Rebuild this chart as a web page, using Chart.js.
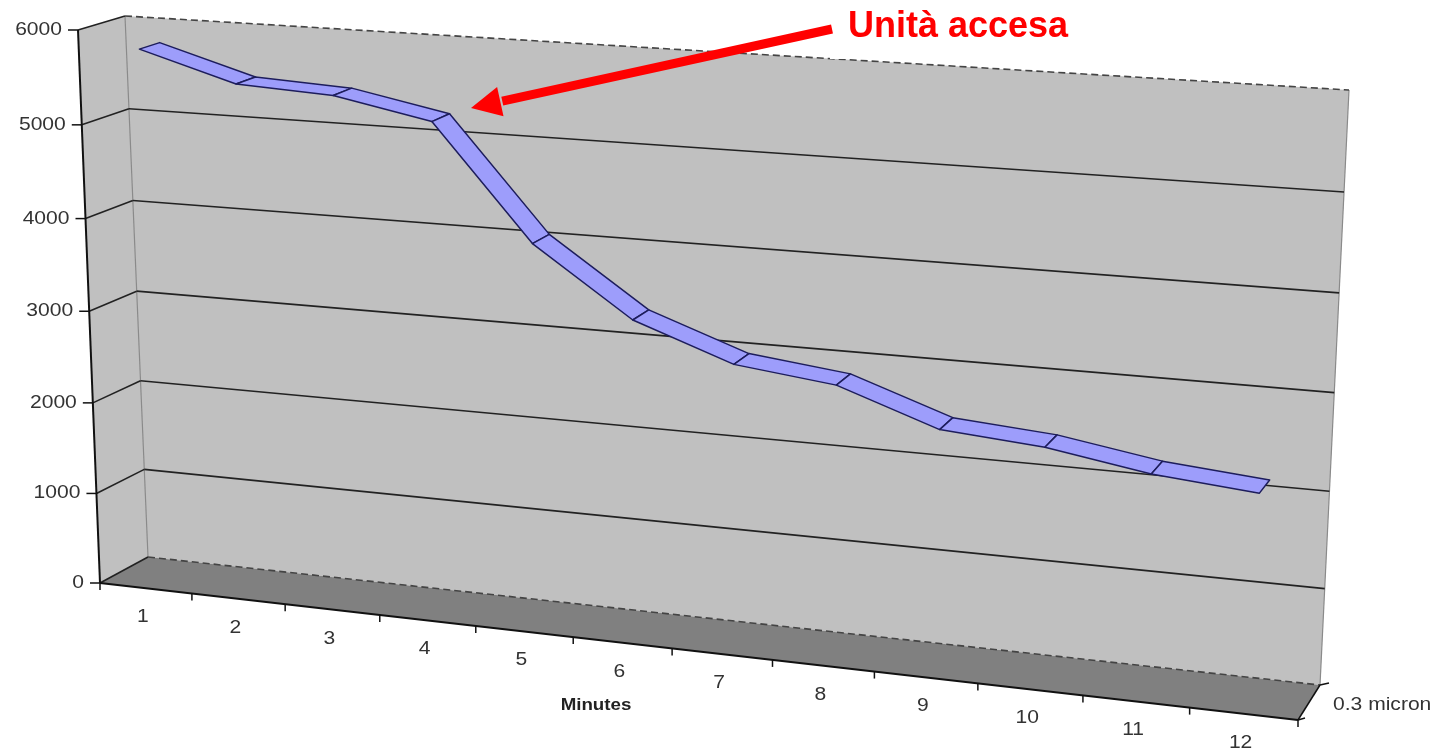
<!DOCTYPE html>
<html>
<head>
<meta charset="utf-8">
<script src="https://cdn.jsdelivr.net/npm/chart.js@4.4.1/dist/chart.umd.min.js"></script>
<style>
  html, body { margin: 0; padding: 0; background: #fff; }
  #wrap { width: 1437px; height: 751px; }
</style>
</head>
<body>
<div id="wrap"><canvas id="chart" width="1437" height="751"></canvas></div>
<script>
// particle counts per minute (0.3 micron channel)
var minutes = ['1', '2', '3', '4', '5', '6', '7', '8', '9', '10', '11', '12'];
var counts = [5790, 5490, 5440, 5240, 4050, 3340, 2970, 2850, 2490, 2410, 2240, 2150];
var yTicks = [0, 1000, 2000, 3000, 4000, 5000, 6000];
var seriesName = '0.3 micron';
var axisTitle = 'Minutes';
var noteText = 'Unità accesa';

// corners of the 3d box: f = front, b = back; digits = u (category), v (value)
var box = {
    f00: [100, 583], f10: [1298, 720], f01: [78, 30], f11: [1327, 112],
    b00: [148, 557], b10: [1320, 685], b01: [125, 16], b11: [1349, 90]
};
var K = 0.094;            // perspective along the category axis
var KV = 0.035;           // and along the value axis
var ribbon = [0.28, 0.72]; // depth of the line strip

function warp(u, k) { return u / (1 + k * (1 - u)); }
function lerp(a, b, t) { return [a[0] + (b[0] - a[0]) * t, a[1] + (b[1] - a[1]) * t]; }

function proj(u, v, w) {
    var s = warp(u, K), t = warp(v, KV);
    var fb = lerp(box.f00, box.f10, s), ft = lerp(box.f01, box.f11, s);
    var bb = lerp(box.b00, box.b10, s), bt = lerp(box.b01, box.b11, s);
    return lerp(lerp(fb, ft, t), lerp(bb, bt, t), w);
}

function poly(ctx, pts) {
    ctx.beginPath();
    ctx.moveTo(pts[0][0], pts[0][1]);
    for (var i = 1; i < pts.length; i++) ctx.lineTo(pts[i][0], pts[i][1]);
    ctx.closePath();
}
function line(ctx, a, b) {
    ctx.beginPath();
    ctx.moveTo(a[0], a[1]);
    ctx.lineTo(b[0], b[1]);
    ctx.stroke();
}
// chart text is slightly wider than the font
function wideText(ctx, str, x, y, align) {
    ctx.save();
    ctx.translate(x, y);
    ctx.scale(1.17, 1);
    ctx.textAlign = align;
    ctx.fillText(str, 0, 0);
    ctx.restore();
}

var box3d = {
    id: 'box3d',
    afterDraw: function (chart) {
        var ctx = chart.ctx;
        var area = chart.chartArea;
        var xs = chart.scales.x, ys = chart.scales.y;
        // normalised coordinates from the chart's own scales
        function U(i) { return (xs.getPixelForValue(i) - area.left) / area.width; }
        function V(val) { return (area.bottom - ys.getPixelForValue(val)) / area.height; }

        ctx.save();
        ctx.lineCap = 'butt';

        // walls and floor
        ctx.fillStyle = '#c0c0c0';
        poly(ctx, [box.f00, box.f01, box.b01, box.b00]); ctx.fill();
        poly(ctx, [box.b00, box.b01, box.b11, box.b10]); ctx.fill();
        ctx.fillStyle = '#808080';
        poly(ctx, [box.f00, box.b00, box.b10, box.f10]); ctx.fill();

        ctx.strokeStyle = '#8a8a8a';
        ctx.lineWidth = 1.2;
        line(ctx, box.b00, box.b01);
        line(ctx, box.b10, box.b11);

        // gridlines (side wall + back wall)
        yTicks.forEach(function (t) {
            var v = V(t);
            var a = proj(0, v, 0), b = proj(0, v, 1), c = proj(1, v, 1);
            ctx.strokeStyle = '#222';
            ctx.lineWidth = 1.6;
            ctx.setLineDash([]);
            line(ctx, a, b);
            if (t === yTicks[0] || t === yTicks[yTicks.length - 1]) {
                ctx.strokeStyle = '#444';
                ctx.setLineDash([7, 4]);
            }
            line(ctx, b, c);
        });
        ctx.setLineDash([]);

        // value axis
        ctx.strokeStyle = '#111';
        ctx.lineWidth = 2;
        line(ctx, box.f00, box.f01);
        ctx.fillStyle = '#333';
        ctx.font = '18px "Liberation Sans", Arial, sans-serif';
        ctx.textBaseline = 'middle';
        yTicks.forEach(function (t) {
            var p = proj(0, V(t), 0);
            ctx.lineWidth = 1.5;
            line(ctx, [p[0] - 10, p[1]], p);
            wideText(ctx, String(t), p[0] - 16, p[1], 'right');
        });

        // category axis along the front edge of the floor
        ctx.strokeStyle = '#111';
        ctx.lineWidth = 2;
        line(ctx, box.f00, box.f10);
        ctx.lineWidth = 1.5;
        for (var k = 0; k <= minutes.length; k++) {
            var e = proj(k / minutes.length, 0, 0);
            line(ctx, e, [e[0], e[1] + 7]);
        }
        minutes.forEach(function (m, i) {
            var c = proj(U(i), 0, 0);
            wideText(ctx, m, c[0] - 3, c[1] + 29, 'center');
        });

        // series (depth) axis on the right side of the floor
        ctx.lineWidth = 1.5;
        line(ctx, box.b10, box.f10);
        line(ctx, box.b10, [box.b10[0] + 9, box.b10[1] - 2]);
        line(ctx, box.f10, [box.f10[0] + 7, box.f10[1] - 2]);
        ctx.textBaseline = 'middle';
        wideText(ctx, seriesName, 1333, 705, 'left');

        ctx.font = 'bold 16px "Liberation Sans", Arial, sans-serif';
        ctx.fillStyle = '#222';
        wideText(ctx, axisTitle, 596, 706, 'center');

        // the line as a flat 3d strip
        var data = chart.data.datasets[0].data;
        ctx.fillStyle = '#9d9dfb';
        ctx.strokeStyle = '#1d1d5c';
        ctx.lineWidth = 1.5;
        ctx.lineJoin = 'round';
        for (var i = 0; i < data.length - 1; i++) {
            var u0 = U(i), u1 = U(i + 1), v0 = V(data[i]), v1 = V(data[i + 1]);
            poly(ctx, [proj(u0, v0, ribbon[0]), proj(u1, v1, ribbon[0]),
                       proj(u1, v1, ribbon[1]), proj(u0, v0, ribbon[1])]);
            ctx.fill();
            ctx.stroke();
        }

        // note with arrow
        ctx.fillStyle = '#fff';
        ctx.fillRect(830, 0, 265, 59);
        var tail = [832, 29], tip = [471, 108];
        var dx = tail[0] - tip[0], dy = tail[1] - tip[1];
        var len = Math.sqrt(dx * dx + dy * dy);
        var d = [dx / len, dy / len], n = [-d[1], d[0]];
        var base = [tip[0] + d[0] * 30, tip[1] + d[1] * 30];
        ctx.strokeStyle = '#ff0000';
        ctx.lineWidth = 9;
        line(ctx, tail, [base[0] + d[0] * 2, base[1] + d[1] * 2]);
        ctx.fillStyle = '#ff0000';
        poly(ctx, [tip, [base[0] + n[0] * 15, base[1] + n[1] * 15],
                   [base[0] - n[0] * 15, base[1] - n[1] * 15]]);
        ctx.fill();
        ctx.font = 'bold 36px "Liberation Sans", Arial, sans-serif';
        ctx.textBaseline = 'alphabetic';
        ctx.textAlign = 'left';
        ctx.fillText(noteText, 848, 37);

        ctx.restore();
    }
};

new Chart(document.getElementById('chart'), {
    type: 'line',
    data: {
        labels: minutes,
        datasets: [{
            label: seriesName,
            data: counts,
            showLine: false,
            pointRadius: 0,
            borderWidth: 0
        }]
    },
    options: {
        responsive: false,
        animation: false,
        layout: { padding: { left: 100, right: 100, top: 30, bottom: 170 } },
        plugins: { legend: { display: false }, tooltip: { enabled: false } },
        scales: {
            x: { type: 'category', offset: true, display: false },
            y: { type: 'linear', min: 0, max: 6000, display: false }
        }
    },
    plugins: [box3d]
});
</script>
</body>
</html>
